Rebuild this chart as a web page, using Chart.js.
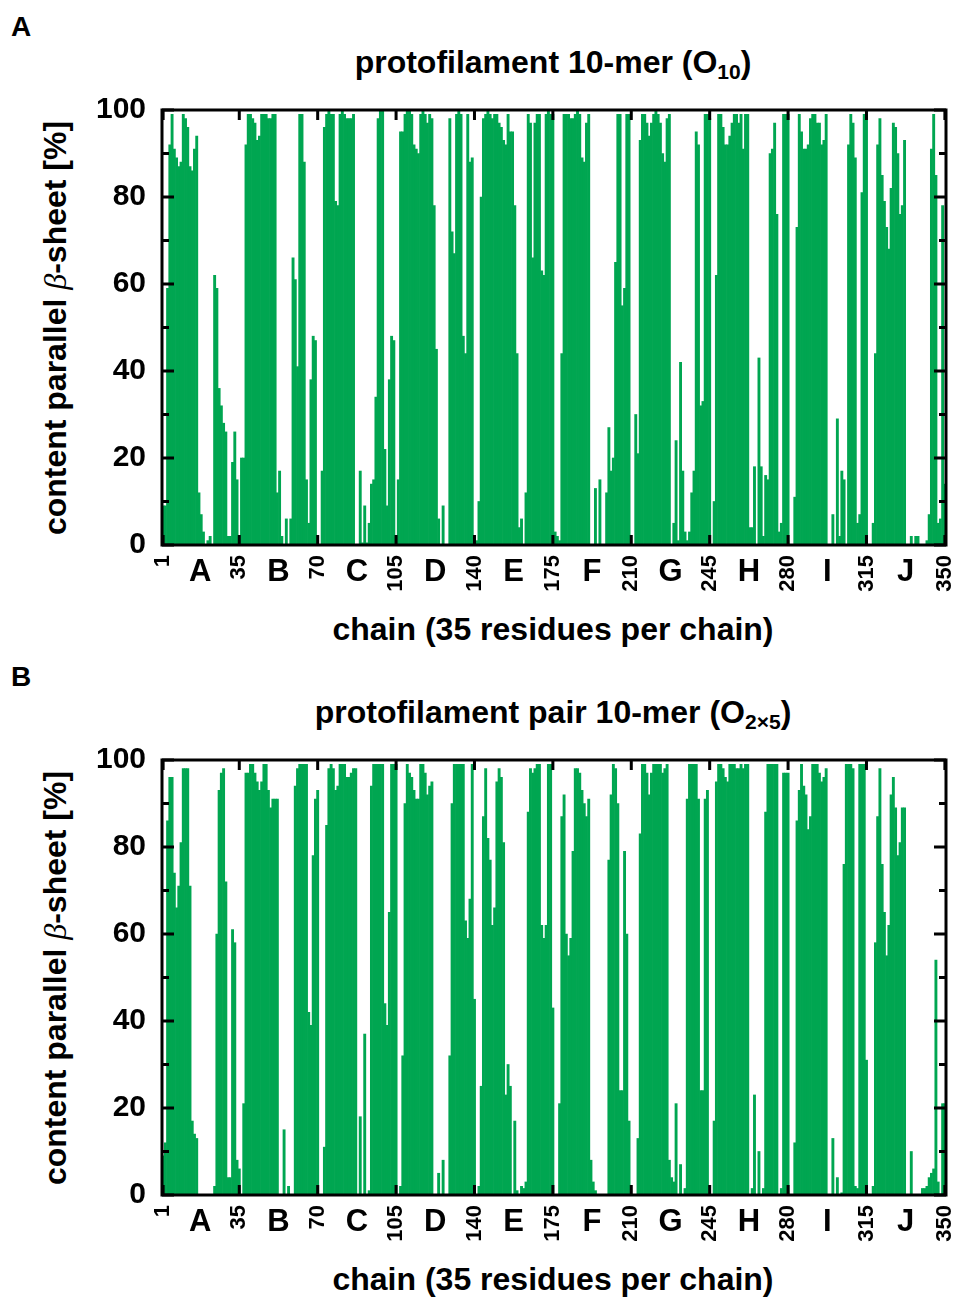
<!DOCTYPE html>
<html>
<head>
<meta charset="utf-8">
<script src="https://cdn.jsdelivr.net/npm/chart.js@4.4.1/dist/chart.umd.min.js"></script>
<style>
  body{margin:0;background:#fff;}
  #pagina{position:relative;width:960px;height:1300px;font-family:"Liberation Sans",Arial,sans-serif;font-weight:bold;color:#000;}
  .txt{position:absolute;white-space:nowrap;line-height:1;}
  .painel{font-size:28px;}
  .titulo{left:146px;width:814px;text-align:center;font-size:32px;}
  .titulo sub{font-size:21px;vertical-align:-6px;}
  .eixoY{font-size:32px;transform:translate(-50%,-50%) rotate(-90deg);}
  .eixoY i{font-family:"Liberation Serif","DejaVu Serif",serif;font-weight:normal;}
  .grafico{position:absolute;left:0;width:960px;height:520px;}
</style>
</head>
<body>
<div id="pagina">
  <div class="txt painel" style="left:11px;top:13px;">A</div>
  <div class="txt titulo" style="top:46px;">protofilament 10-mer (O<sub>10</sub>)</div>
  <div class="txt eixoY" style="left:55px;top:328px;">content parallel <i>β</i>-sheet [%]</div>
  <div class="grafico" style="top:90px;"><canvas id="grafA"></canvas></div>
  <div class="txt titulo" style="top:613px;">chain (35 residues per chain)</div>

  <div class="txt painel" style="left:11px;top:663px;">B</div>
  <div class="txt titulo" style="top:696px;">protofilament pair 10-mer (O<sub>2×5</sub>)</div>
  <div class="txt eixoY" style="left:55px;top:978px;">content parallel <i>β</i>-sheet [%]</div>
  <div class="grafico" style="top:740px;"><canvas id="grafB"></canvas></div>
  <div class="txt titulo" style="top:1263px;">chain (35 residues per chain)</div>
</div>

<script>
// residuos 1..350 (10 cadeias de 35)
const residues = [];
for (let i = 1; i <= 350; i++) residues.push(i);

const tickResidues = [1, 35, 70, 105, 140, 175, 210, 245, 280, 315, 350];
const chainLetters = ['A', 'B', 'C', 'D', 'E', 'F', 'G', 'H', 'I', 'J'];
const yTicks = [0, 20, 40, 60, 80, 100];

// painel A - protofilament 10-mer (O10), % beta paralela por residuo
const sheetO10 = [
  9, 9, 59, 92, 99, 91, 89, 87, 88, 99,
  98, 96, 87, 86, 91, 94, 12, 7, 3, 0,
  1, 2, 0, 62, 59, 36, 32, 28, 26, 2,
  2, 19, 26, 15, 2, 20, 20, 92, 99, 99,
  98, 97, 93, 94, 99, 99, 99, 98, 98, 99,
  99, 12, 17, 2, 0, 6, 0, 6, 66, 61,
  41, 99, 99, 88, 15, 5, 38, 48, 47, 0,
  0, 17, 96, 99, 100, 99, 99, 79, 78, 99,
  100, 99, 98, 98, 98, 99, 0, 0, 17, 0.5,
  9, 0.5, 5, 14, 15, 34, 98, 100, 100, 22,
  9, 38, 48, 47, 0, 15, 95, 95, 99, 100,
  100, 99, 92, 91, 90, 99, 100, 99, 97, 99,
  98, 78, 45, 6, 0, 9, 0, 0, 98, 72,
  67, 99, 100, 99, 48, 44, 99, 88, 89, 1,
  1, 10, 80, 98, 99, 100, 99, 98, 99, 99,
  97, 96, 93, 92, 99, 95, 95, 78, 44, 4,
  6, 0, 12, 99, 97, 66, 97, 99, 99, 63,
  62, 99, 100, 99, 99, 3, 2, 1, 44, 99,
  99, 99, 98, 98, 99, 100, 99, 89, 88, 97,
  99, 0, 0, 13, 0, 15, 0, 0, 12, 27,
  17, 20, 65, 99, 99, 55, 59, 99, 99, 0,
  0, 30, 21, 93, 99, 99, 97, 94, 97, 99,
  100, 99, 97, 90, 88, 98, 99, 0, 5, 24,
  1, 42, 17, 3, 1, 3, 12, 17, 95, 92,
  32, 33, 99, 99, 98, 0, 10, 62, 99, 99,
  96, 92, 92, 94, 97, 99, 99, 97, 99, 91,
  99, 99, 4, 4, 18, 0, 43, 18, 2, 16,
  15, 90, 91, 97, 76, 3, 5, 99, 99, 99,
  0, 0, 11, 73, 99, 95, 91, 91, 92, 98,
  99, 99, 97, 97, 92, 93, 99, 0, 0, 7,
  0, 29, 2, 17, 15, 0, 92, 99, 97, 89,
  5, 7, 81, 99, 99, 0, 0, 5, 44, 92,
  98, 85, 79, 73, 68, 82, 97, 96, 90, 76,
  78, 93, 0, 0, 2, 0, 2, 2, 0, 0,
  0, 1, 7, 91, 99, 85, 5, 6, 78, 14
];

// painel B - protofilament pair 10-mer (O2x5)
const sheetO2x5 = [
  9, 12, 86, 96, 96, 74, 66, 71, 81, 98,
  98, 98, 71, 17, 14, 13, 0, 0, 0, 0,
  0, 0, 0, 2, 60, 93, 97, 98, 72, 4,
  4, 61, 58, 8, 6, 0, 21, 97, 97, 99,
  99, 97, 95, 93, 95, 99, 99, 93, 89, 91,
  91, 91, 0, 0, 15, 0, 2, 0, 0, 94,
  98, 99, 99, 99, 99, 42, 39, 78, 91, 93,
  0, 0, 11, 85, 98, 99, 98, 93, 94, 99,
  99, 99, 96, 96, 97, 98, 98, 0, 18, 0,
  37, 0, 1, 94, 99, 99, 99, 99, 99, 44,
  39, 65, 99, 99, 99, 0, 2, 32, 90, 99,
  97, 96, 93, 91, 91, 99, 99, 97, 92, 94,
  95, 0, 0, 5, 0, 8, 0, 0, 32, 90,
  99, 99, 99, 99, 99, 63, 59, 68, 99, 45,
  0, 2, 25, 87, 98, 82, 77, 62, 66, 95,
  98, 96, 81, 23, 30, 25, 0, 17, 1, 0,
  2, 1.5, 3, 88, 98, 97, 98, 99, 99, 62,
  59, 62, 99, 99, 43, 0, 0, 21, 87, 92,
  60, 55, 59, 79, 98, 98, 97, 93, 90, 87,
  91, 8, 3, 1, 0, 0, 0, 0, 0, 77,
  92, 99, 98, 90, 24, 24, 79, 60, 17, 0,
  0, 0, 13, 83, 99, 99, 97, 92, 97, 99,
  99, 99, 99, 97, 98, 99, 8, 4, 3, 21,
  0, 7, 0, 1.5, 91, 99, 99, 99, 99, 91,
  24, 24, 91, 93, 0, 0, 17, 95, 99, 99,
  98, 96, 95, 99, 99, 99, 98, 98, 99, 98,
  99, 99, 0, 1.5, 23, 0, 10, 0, 1.5, 88,
  99, 99, 99, 99, 99, 0, 1.5, 97, 97, 97,
  0, 0, 12, 86, 93, 99, 94, 92, 84, 87,
  99, 99, 99, 97, 95, 96, 98, 0, 0, 13,
  0, 4, 0, 0.5, 76, 99, 99, 99, 98, 2,
  1.5, 99, 99, 99, 31, 0, 0, 2, 58, 87,
  98, 76, 65, 55, 62, 92, 96, 89, 78, 81,
  89, 89, 0, 0, 10, 0, 0, 0, 0, 1.5,
  1.5, 2, 4, 5, 6, 54, 3, 0, 21, 21
];

const verde = '#00a651';
const fonte = '"Liberation Sans", Arial, sans-serif';

// moldura preta + ticks para dentro + letras das cadeias
const molduraPlugin = {
  id: 'moldura',
  afterDraw(chart) {
    const ctx = chart.ctx;
    const area = chart.chartArea;
    const x = chart.scales.x;
    const y = chart.scales.y;
    ctx.save();
    ctx.strokeStyle = '#000';
    ctx.lineWidth = 3;

    // ticks do y (maior a cada 20, menor a cada 10), esquerda e direita
    for (let v = 0; v <= 100; v += 10) {
      const py = y.getPixelForValue(v);
      const len = (v % 20 == 0) ? 12 : 7;
      ctx.beginPath();
      ctx.moveTo(area.left, py); ctx.lineTo(area.left + len, py);
      ctx.moveTo(area.right, py); ctx.lineTo(area.right - len, py);
      ctx.stroke();
    }
    // ticks do x em cima e em baixo
    tickResidues.forEach(function(r) {
      const px = x.getPixelForValue(r - 1);
      ctx.beginPath();
      ctx.moveTo(px, area.bottom); ctx.lineTo(px, area.bottom - 10);
      ctx.moveTo(px, area.top); ctx.lineTo(px, area.top + 10);
      ctx.stroke();
    });
    ctx.strokeRect(area.left, area.top, area.right - area.left, area.bottom - area.top);

    // letras A..J no meio de cada cadeia
    ctx.fillStyle = '#000';
    ctx.font = 'bold 31px ' + fonte;
    ctx.textAlign = 'center';
    ctx.textBaseline = 'alphabetic';
    chainLetters.forEach(function(l, k) {
      const px = (x.getPixelForValue(16 + 35 * k) + x.getPixelForValue(17 + 35 * k)) / 2;
      ctx.fillText(l, px, area.bottom + 36);
    });
    ctx.restore();
  }
};

function criarGrafico(id, valores) {
  return new Chart(document.getElementById(id), {
    type: 'bar',
    data: {
      labels: residues,
      datasets: [{
        data: valores,
        backgroundColor: verde,
        borderWidth: 0,
        barPercentage: 1,
        categoryPercentage: 1
      }]
    },
    options: {
      responsive: true,
      maintainAspectRatio: false,
      animation: false,
      layout: { padding: { top: 20, right: 14, left: 0, bottom: 0 } },
      plugins: { legend: { display: false }, tooltip: { enabled: false } },
      scales: {
        x: {
          offset: true,
          grid: { display: false, drawTicks: false },
          border: { display: false },
          afterFit: function(s) { s.height = 65; s.paddingLeft = 0; s.paddingRight = 0; },
          ticks: {
            autoSkip: false,
            minRotation: 90,
            maxRotation: 90,
            padding: 10,
            color: '#000',
            font: { family: fonte, weight: 'bold', size: 22 },
            callback: function(val, idx) {
              return tickResidues.includes(idx + 1) ? String(residues[idx]) : null;
            }
          }
        },
        y: {
          min: 0,
          max: 100,
          grid: { display: false, drawTicks: false },
          border: { display: false },
          afterFit: function(s) { s.width = 162; s.paddingTop = 0; s.paddingBottom = 0; },
          afterBuildTicks: function(s) { s.ticks = yTicks.map(function(v) { return { value: v }; }); },
          ticks: {
            padding: 16,
            color: '#000',
            font: { family: fonte, weight: 'bold', size: 30 }
          }
        }
      }
    },
    plugins: [molduraPlugin]
  });
}

criarGrafico('grafA', sheetO10);
criarGrafico('grafB', sheetO2x5);
</script>
</body>
</html>
